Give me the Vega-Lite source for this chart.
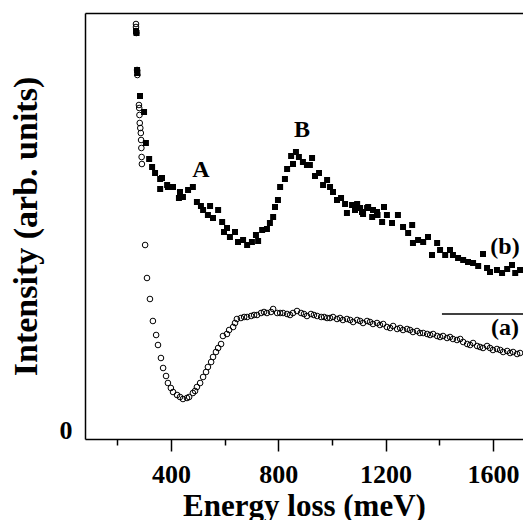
{
  "$schema": "https://vega.github.io/schema/vega-lite/v6.json",
  "width": 438,
  "height": 426,
  "autosize": {"type": "none"},
  "padding": {"left": 85, "top": 13, "right": 0, "bottom": 81},
  "background": "white",
  "config": {
    "view": {"stroke": null},
    "font": "Liberation Serif",
    "axis": {"domainColor": "black", "domainWidth": 1.5, "tickColor": "black", "tickWidth": 1.5, "grid": false,
      "labelFont": "Liberation Serif", "labelFontWeight": "bold", "labelColor": "black",
      "titleFont": "Liberation Serif", "titleFontWeight": "bold", "titleColor": "black"}
  },
  "datasets": {
    "a": [
      {"E":270,"I":4.06},{"E":270,"I":4.03},{"E":271,"I":3.97},{"E":274,"I":3.60},{"E":275,"I":3.55},
      {"E":281,"I":3.25},{"E":282,"I":3.22},{"E":283,"I":3.15},{"E":284,"I":3.07},{"E":286,"I":3.02},
      {"E":288,"I":2.97},{"E":289,"I":2.90},{"E":290,"I":2.82},{"E":291,"I":2.73},{"E":292,"I":2.66},
      {"E":304,"I":1.85},{"E":311,"I":1.52},{"E":322,"I":1.31},{"E":333,"I":1.09},{"E":345,"I":0.95},
      {"E":352,"I":0.85},{"E":363,"I":0.72},{"E":371,"I":0.62},{"E":382,"I":0.54},{"E":389,"I":0.47},
      {"E":400,"I":0.42},{"E":408,"I":0.38},{"E":423,"I":0.35},{"E":434,"I":0.33},{"E":445,"I":0.31},
      {"E":460,"I":0.32},{"E":468,"I":0.33},{"E":482,"I":0.37},{"E":490,"I":0.39},{"E":497,"I":0.43},
      {"E":509,"I":0.47},{"E":520,"I":0.53},{"E":531,"I":0.58},{"E":538,"I":0.63},{"E":550,"I":0.68},
      {"E":557,"I":0.73},{"E":568,"I":0.78},{"E":576,"I":0.82},{"E":587,"I":0.86},{"E":594,"I":0.94},
      {"E":609,"I":0.96},{"E":617,"I":1.00},{"E":632,"I":1.03},{"E":639,"I":1.07},{"E":646,"I":1.11},
      {"E":661,"I":1.12},{"E":673,"I":1.13},{"E":684,"I":1.13},{"E":699,"I":1.14},{"E":710,"I":1.15},
      {"E":721,"I":1.15},{"E":736,"I":1.17},{"E":747,"I":1.18},{"E":758,"I":1.17},{"E":773,"I":1.18},
      {"E":781,"I":1.21},{"E":796,"I":1.17},{"E":807,"I":1.17},{"E":818,"I":1.17},{"E":833,"I":1.16},
      {"E":844,"I":1.15},{"E":855,"I":1.17},{"E":870,"I":1.19},{"E":885,"I":1.17},{"E":896,"I":1.16},
      {"E":907,"I":1.14},{"E":922,"I":1.16},{"E":933,"I":1.15},{"E":945,"I":1.14},{"E":960,"I":1.13},
      {"E":971,"I":1.13},{"E":982,"I":1.12},{"E":993,"I":1.12},{"E":1004,"I":1.13},{"E":1019,"I":1.11},
      {"E":1030,"I":1.12},{"E":1041,"I":1.10},{"E":1056,"I":1.11},{"E":1068,"I":1.10},{"E":1079,"I":1.08},
      {"E":1094,"I":1.10},{"E":1105,"I":1.09},{"E":1116,"I":1.07},{"E":1131,"I":1.09},{"E":1142,"I":1.08},
      {"E":1153,"I":1.06},{"E":1168,"I":1.07},{"E":1179,"I":1.05},{"E":1191,"I":1.06},{"E":1205,"I":1.03},
      {"E":1217,"I":1.02},{"E":1228,"I":1.04},{"E":1243,"I":1.01},{"E":1254,"I":1.02},{"E":1265,"I":1.00},
      {"E":1280,"I":1.01},{"E":1291,"I":1.00},{"E":1302,"I":0.98},{"E":1317,"I":0.99},{"E":1328,"I":0.97},
      {"E":1340,"I":0.97},{"E":1355,"I":0.96},{"E":1366,"I":0.95},{"E":1377,"I":0.96},{"E":1392,"I":0.94},
      {"E":1403,"I":0.93},{"E":1414,"I":0.94},{"E":1429,"I":0.92},{"E":1440,"I":0.93},{"E":1451,"I":0.91},
      {"E":1466,"I":0.90},{"E":1478,"I":0.91},{"E":1489,"I":0.88},{"E":1504,"I":0.86},{"E":1515,"I":0.85},
      {"E":1526,"I":0.87},{"E":1541,"I":0.84},{"E":1552,"I":0.83},{"E":1563,"I":0.82},{"E":1578,"I":0.84},
      {"E":1589,"I":0.82},{"E":1600,"I":0.80},{"E":1615,"I":0.81},{"E":1627,"I":0.80},{"E":1638,"I":0.78},
      {"E":1653,"I":0.79},{"E":1664,"I":0.77},{"E":1675,"I":0.78},{"E":1690,"I":0.76},{"E":1701,"I":0.77}
    ],
    "b": [
      {"E":270,"I":3.99},{"E":272,"I":3.97},{"E":274,"I":3.60},{"E":275,"I":3.57},{"E":285,"I":3.34},
      {"E":300,"I":3.18},{"E":307,"I":2.87},{"E":319,"I":2.71},{"E":330,"I":2.63},{"E":341,"I":2.57},
      {"E":360,"I":2.51},{"E":360,"I":2.41},{"E":367,"I":2.52},{"E":386,"I":2.45},{"E":389,"I":2.43},
      {"E":408,"I":2.43},{"E":430,"I":2.32},{"E":434,"I":2.38},{"E":445,"I":2.33},{"E":464,"I":2.40},
      {"E":482,"I":2.43},{"E":497,"I":2.28},{"E":512,"I":2.24},{"E":520,"I":2.20},{"E":538,"I":2.15},
      {"E":546,"I":2.24},{"E":557,"I":2.12},{"E":576,"I":2.20},{"E":591,"I":2.08},{"E":598,"I":1.98},
      {"E":609,"I":2.02},{"E":620,"I":1.93},{"E":639,"I":1.98},{"E":650,"I":1.88},{"E":669,"I":1.90},
      {"E":684,"I":1.85},{"E":702,"I":1.88},{"E":717,"I":1.95},{"E":725,"I":1.89},{"E":740,"I":2.00},
      {"E":758,"I":2.01},{"E":769,"I":2.07},{"E":781,"I":2.13},{"E":788,"I":2.23},{"E":799,"I":2.30},
      {"E":807,"I":2.43},{"E":825,"I":2.51},{"E":833,"I":2.61},{"E":848,"I":2.74},{"E":855,"I":2.66},
      {"E":866,"I":2.78},{"E":877,"I":2.73},{"E":892,"I":2.68},{"E":907,"I":2.65},{"E":918,"I":2.65},
      {"E":926,"I":2.72},{"E":937,"I":2.54},{"E":952,"I":2.57},{"E":967,"I":2.45},{"E":982,"I":2.50},
      {"E":993,"I":2.43},{"E":1004,"I":2.38},{"E":1019,"I":2.30},{"E":1034,"I":2.32},{"E":1049,"I":2.26},
      {"E":1056,"I":2.17},{"E":1075,"I":2.25},{"E":1086,"I":2.20},{"E":1094,"I":2.26},{"E":1105,"I":2.22},
      {"E":1112,"I":2.18},{"E":1116,"I":2.16},{"E":1131,"I":2.22},{"E":1135,"I":2.23},{"E":1150,"I":2.13},
      {"E":1153,"I":2.20},{"E":1168,"I":2.18},{"E":1170,"I":2.15},{"E":1187,"I":2.08},{"E":1194,"I":2.23},
      {"E":1205,"I":2.15},{"E":1224,"I":2.07},{"E":1246,"I":2.15},{"E":1265,"I":2.03},{"E":1284,"I":1.97},
      {"E":1299,"I":2.05},{"E":1302,"I":1.87},{"E":1321,"I":1.90},{"E":1340,"I":1.88},{"E":1358,"I":1.93},
      {"E":1373,"I":1.75},{"E":1392,"I":1.87},{"E":1403,"I":1.80},{"E":1422,"I":1.75},{"E":1440,"I":1.80},
      {"E":1451,"I":1.75},{"E":1470,"I":1.72},{"E":1489,"I":1.70},{"E":1507,"I":1.68},{"E":1526,"I":1.67},
      {"E":1545,"I":1.64},{"E":1563,"I":1.76},{"E":1578,"I":1.62},{"E":1589,"I":1.58},{"E":1615,"I":1.60},
      {"E":1634,"I":1.57},{"E":1653,"I":1.61},{"E":1671,"I":1.65},{"E":1683,"I":1.57},{"E":1701,"I":1.60}
    ],
    "labels": [
      {"E":512,"I":2.60,"label":"A"},
      {"E":889,"I":3.00,"label":"B"},
      {"E":1645,"I":1.83,"label":"(b)"},
      {"E":1645,"I":1.02,"label":"(a)"}
    ],
    "line": [{"E":1410,"E2":1712,"I":1.16}]
  },
  "resolve": {"axis": {"x": "independent", "y": "shared"}},
  "layer": [
    {
      "data": {"name": "a"},
      "mark": {"type": "point", "shape": "circle", "filled": false, "stroke": "black", "strokeWidth": 1, "size": 32, "opacity": 1},
      "encoding": {
        "x": {"field": "E", "type": "quantitative",
          "scale": {"domain": [80, 1712], "nice": false, "zero": false},
          "axis": {"values": [200, 400, 600, 800, 1000, 1200, 1400, 1600], "format": "d",
            "labelExpr": "datum.value % 400 === 0 ? datum.label : ''",
            "tickSize": {"condition": {"test": "datum.value % 400 === 0", "value": 12}, "value": 6},
            "labelFontSize": 26, "labelPadding": 10,
            "title": "Energy loss (meV)", "titleFontSize": 31, "titlePadding": 4}},
        "y": {"field": "I", "type": "quantitative",
          "scale": {"domain": [-0.09, 4.17], "nice": false, "zero": false},
          "axis": {"values": [0], "format": "d", "tickSize": 0, "labelFontSize": 26, "labelPadding": 13,
            "title": "Intensity (arb. units)", "titleFontSize": 34, "titlePadding": 16}}
      }
    },
    {
      "data": {"name": "b"},
      "mark": {"type": "point", "shape": "square", "filled": true, "color": "black", "size": 36, "opacity": 1},
      "encoding": {
        "x": {"field": "E", "type": "quantitative", "axis": null},
        "y": {"field": "I", "type": "quantitative",
          "axis": {"values": [0], "format": "d", "tickSize": 0, "labelFontSize": 26, "labelPadding": 13,
            "title": "Intensity (arb. units)", "titleFontSize": 34, "titlePadding": 16}}
      }
    },
    {
      "data": {"name": "line"},
      "mark": {"type": "rule", "color": "black", "strokeWidth": 1.5},
      "encoding": {
        "x": {"field": "E", "type": "quantitative",
          "axis": {"orient": "top", "labels": false, "ticks": false, "title": null, "domain": true}},
        "x2": {"field": "E2"},
        "y": {"field": "I", "type": "quantitative",
          "axis": {"values": [0], "format": "d", "tickSize": 0, "labelFontSize": 26, "labelPadding": 13,
            "title": "Intensity (arb. units)", "titleFontSize": 34, "titlePadding": 16}}
      }
    },
    {
      "data": {"name": "labels"},
      "mark": {"type": "text", "font": "Liberation Serif", "fontWeight": "bold", "fontSize": 24, "color": "black", "align": "center", "baseline": "middle"},
      "encoding": {
        "x": {"field": "E", "type": "quantitative", "axis": null},
        "y": {"field": "I", "type": "quantitative",
          "axis": {"values": [0], "format": "d", "tickSize": 0, "labelFontSize": 26, "labelPadding": 13,
            "title": "Intensity (arb. units)", "titleFontSize": 34, "titlePadding": 16}},
        "text": {"field": "label"}
      }
    }
  ]
}
